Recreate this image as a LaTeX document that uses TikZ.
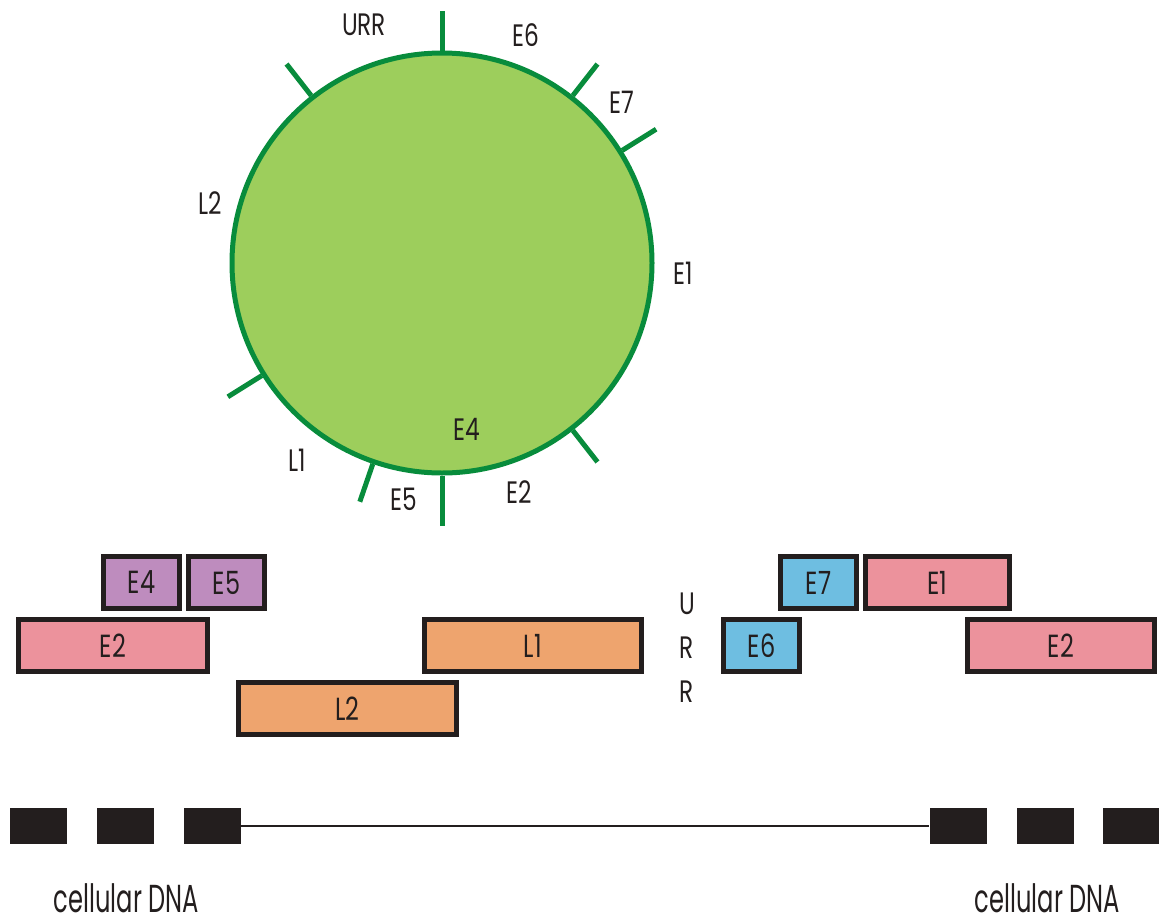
\documentclass[tikz,border=0pt]{standalone}
\usepackage{fontspec}
\setmainfont[FakeStretch=0.75]{Poppins}
\newfontfamily\dnafont[FakeStretch=0.62]{Poppins}
\usepackage{tikz}
\definecolor{ringfill}{RGB}{157,206,92}
\definecolor{ringline}{RGB}{8,140,60}
\definecolor{genepink}{RGB}{236,146,156}
\definecolor{genepurple}{RGB}{190,140,190}
\definecolor{geneorange}{RGB}{238,164,110}
\definecolor{geneblue}{RGB}{110,190,225}
\definecolor{ink}{RGB}{35,30,30}

\begin{document}
\begin{tikzpicture}[x=1pt,y=-1pt,
    gene/.style={draw=ink,line width=5pt,minimum height=52pt,inner sep=0pt,text=ink,font=\fontsize{32}{32}\selectfont},
    dnablock/.style={fill=ink,minimum width=57pt,minimum height=36pt,inner sep=0pt},
    tick/.style={ringline,line width=5pt},
    lbl/.style={text=ink,inner sep=0pt,font=\fontsize{31}{31}\selectfont}]
                      \useasboundingbox (0,0) rectangle (1159,919);
                      % circular genome
                      \node[circle,draw=ringline,fill=ringfill,line width=5pt,minimum size=420pt,inner sep=0pt](ring)at(442,263){};
                      \draw[tick] (ring.90) -- ++(90:40pt);
                      \draw[tick] (ring.128) -- ++(128:40pt);
                      \draw[tick] (ring.52) -- ++(52:40pt);
                      \draw[tick] (ring.32) -- ++(32:40pt);
                      \draw[tick] (ring.212) -- ++(212:40pt);
                      \draw[tick] (ring.308) -- ++(308:40pt);
                      \draw[tick] (ring.251) -- ++(251:40pt);
                      \draw[tick] (ring.270) -- ++(270:50pt);
                      \node[lbl](urr)at(364,25){URR};
                      \node[lbl](e6)at(526,35){E6};
                      \node[lbl](e7)at(622,102){E7};
                      \node[lbl](e1)at(683,273){E1};
                      \node[lbl](l2)at(210,203){L2};
                      \node[lbl](e4)at(467,429){E4};
                      \node[lbl](l1)at(297,460){L1};
                      \node[lbl](e5)at(404,499){E5};
                      \node[lbl](e2)at(519,492){E2};
                      % linear map
                      \node[gene,fill=genepurple,minimum width=76pt](bE4)at(141.5,582.5){E4};
                      \node[gene,fill=genepurple,minimum width=76pt](bE5)at(226.5,582.5){E5};
                      \node[gene,fill=genepink,minimum width=189pt](bE2a)at(113,645.5){E2};
                      \node[gene,fill=geneorange,minimum width=217pt](bL1)at(533,645.5){L1};
                      \node[gene,fill=geneorange,minimum width=218pt](bL2)at(347.5,708.5){L2};
                      \node[lbl,align=center,font=\fontsize{31}{44}\selectfont](burr)at(687,647.5){U\\R\\R};
                      \node[gene,fill=geneblue,minimum width=76pt](bE7)at(818.5,582.5){E7};
                      \node[gene,fill=genepink,minimum width=144pt](bE1)at(937.5,582.5){E1};
                      \node[gene,fill=geneblue,minimum width=76pt](bE6)at(761.5,645.5){E6};
                      \node[gene,fill=genepink,minimum width=187pt](bE2b)at(1061,645.5){E2};
                      % integrated DNA
                      \node[dnablock](a1)at(38,826){};
                      \node[dnablock](a2)at(125.5,826){};
                      \node[dnablock](a3)at(212,826){};
                      \node[dnablock](b1)at(958,826){};
                      \node[dnablock](b2)at(1045,826){};
                      \node[dnablock](b3)at(1131,826){};
                      \draw[ink,line width=2.5pt] (a3.east) -- (b1.west);
                      \node[lbl,font=\dnafont\fontsize{39}{39}\selectfont](dnaL)at(126.5,898){cellular DNA};
                      \node[lbl,font=\dnafont\fontsize{39}{39}\selectfont](dnaR)at(1047.5,898){cellular DNA};
                  \end{tikzpicture}
\end{document}
